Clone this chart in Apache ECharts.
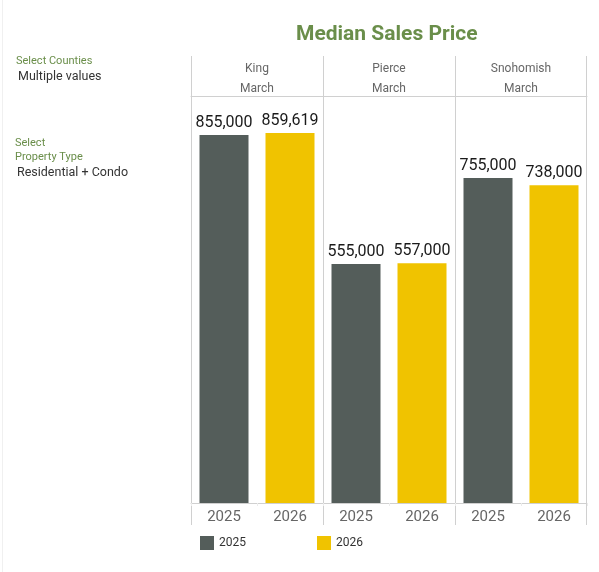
<!DOCTYPE html>
<html><head><meta charset="utf-8">
<script src="https://cdn.jsdelivr.net/npm/echarts@6/dist/echarts.min.js"></script>
<style>html,body{margin:0;padding:0;background:#fff}#c{width:599px;height:572px}</style>
</head><body><div id="c"></div>
<script>
const counties = ['King', 'Pierce', 'Snohomish'];
const period = 'March';
const years = ['2025', '2026'];
const values2025 = [855000, 555000, 755000];
const values2026 = [859619, 557000, 738000];

const chart = echarts.init(document.getElementById('c'));
const FONT = 'Roboto';
const colors = {'2025': '#545d5a', '2026': '#f0c300'};
const lineColor = '#d0d0d0';
const yMax = 945600;
const panelLeft = [191, 323, 455];
const panelW = 132;

const grids = [], xAxes = [], yAxes = [], series = [];
counties.forEach((c, i) => {
  grids.push({left: panelLeft[i], width: panelW, top: 96, height: 407});
  xAxes.push({
    type: 'category', gridIndex: i, data: years, position: 'bottom',
    axisLine: {show: true, lineStyle: {color: lineColor}},
    axisTick: {show: true, alignWithLabel: false, length: 3, lineStyle: {color: '#ececec'}},
    axisLabel: {color: '#666', fontSize: 15, fontFamily: FONT, margin: 7}
  });
  xAxes.push({
    type: 'category', gridIndex: i, data: [c], position: 'top',
    axisLine: {show: true, lineStyle: {color: lineColor}},
    axisTick: {show: false},
    axisLabel: {color: '#666', fontSize: 12, fontFamily: FONT, margin: -3, lineHeight: 20,
      formatter: v => v + '\n' + period}
  });
  yAxes.push({type: 'value', gridIndex: i, min: 0, max: yMax, show: false});
  const vals = [values2025[i], values2026[i]];
  years.forEach((y, k) => {
    const data = years.map((_, j) => j === k ? vals[k] : '-');
    series.push({
      name: y, type: 'bar', xAxisIndex: i * 2, yAxisIndex: i, stack: 's' + i,
      barWidth: 49, data: data,
      itemStyle: {color: colors[y]},
      label: {show: true, position: 'top', distance: 4, color: '#1a1a1a', fontSize: 16, fontFamily: FONT,
        formatter: p => Number(p.value).toLocaleString('en-US')},
      emphasis: {disabled: true}, animation: false
    });
  });
});

const vlines = [191, 323, 455, 586].map(x => ({
  type: 'line', shape: {x1: x + 0.5, y1: 56, x2: x + 0.5, y2: 525},
  style: {stroke: lineColor, lineWidth: 1}, silent: true
}));

const texts = [
  {type: 'text', left: 16, top: 56, style: {text: 'Select Counties', fill: '#6a8e4a', font: '11px Roboto'}},
  {type: 'text', left: 18, top: 70, style: {text: 'Multiple values', fill: '#333', font: '12.5px Roboto'}},
  {type: 'text', left: 15, top: 138, style: {text: 'Select', fill: '#6a8e4a', font: '11px Roboto'}},
  {type: 'text', left: 15, top: 152, style: {text: 'Property Type', fill: '#6a8e4a', font: '11px Roboto'}},
  {type: 'text', left: 17, top: 166, style: {text: 'Residential + Condo', fill: '#333', font: '12.5px Roboto'}},
  {type: 'line', shape: {x1: 2.5, y1: 0, x2: 2.5, y2: 572}, style: {stroke: '#f0f0f0', lineWidth: 1}, silent: true}
];

chart.setOption({
  animation: false,
  title: {text: 'Median Sales Price', left: 296, top: 24, padding: 0,
    textStyle: {color: '#6a8e4a', fontSize: 21, fontWeight: 'bold', fontFamily: FONT}},
  legend: {
    data: years, left: 195, top: 531, itemWidth: 14, itemHeight: 14, itemGap: 71,
    icon: 'rect', textStyle: {color: '#333', fontSize: 12, fontFamily: FONT, padding: [0, 0, 0, 0]},
    selectedMode: false
  },
  grid: grids, xAxis: xAxes, yAxis: yAxes, series: series,
  graphic: vlines.concat(texts)
});
</script></body></html>
